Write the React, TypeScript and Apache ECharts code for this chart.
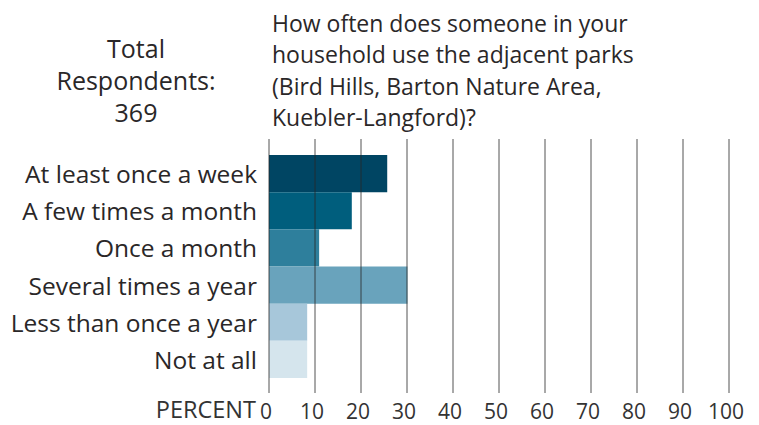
import React, { useEffect, useRef } from "react";
import * as echarts from "echarts";

const categories = [
  "At least once a week",
  "A few times a month",
  "Once a month",
  "Several times a year",
  "Less than once a year",
  "Not at all",
];
const values = [25.7, 18.0, 10.9, 30.1, 8.3, 8.3];
const barColors = ["#004563", "#005E7D", "#2E7F9C", "#69A3BC", "#A7C7DA", "#D5E5ED"];
const titleLines = [
  "How often does someone in your",
  "household use the adjacent parks",
  "(Bird Hills, Barton Nature Area,",
  "Kuebler-Langford)?",
];
const totalLines = ["Total", "Respondents:", "369"];
const axisName = "PERCENT";

const FONT = "'Open Sans', 'Noto Sans', sans-serif";
const TXT = "#2a2728";

export default function App() {
  const ref = useRef<HTMLDivElement>(null);
  useEffect(() => {
    if (!ref.current) return;
    const chart = echarts.init(ref.current, null, { renderer: "svg" });
    chart.setOption({
      animation: false,
      backgroundColor: "#ffffff",
      textStyle: { fontFamily: FONT },
      grid: [
        { left: 269, width: 460, top: 155, height: 223, containLabel: false },
        { left: 269, width: 460, top: 139, height: 254, containLabel: false },
      ],
      xAxis: [
        {
          gridIndex: 0,
          type: "value",
          min: 0,
          max: 100,
          interval: 10,
          show: false,
          splitLine: { show: false },
        },
        {
          gridIndex: 1,
          type: "value",
          min: 0,
          max: 100,
          interval: 10,
          z: 5,
          axisLine: { show: false },
          axisTick: { show: false },
          splitLine: { show: true, lineStyle: { color: "rgba(40,40,40,0.5)", width: 1.6 } },
          axisLabel: {
            show: true,
            margin: 7,
            fontSize: 21,
            color: "#333",
            fontFamily: FONT,
            padding: [0, 6, 0, 0],
          },
        },
      ],
      yAxis: [
        {
          gridIndex: 0,
          type: "category",
          data: categories,
          inverse: true,
          axisLine: { show: false },
          axisTick: { show: false },
          splitLine: { show: false },
          axisLabel: { fontSize: 24.5, color: TXT, margin: 12, fontFamily: FONT },
        },
        {
          gridIndex: 1,
          type: "category",
          data: [""],
          show: false,
        },
      ],
      series: [
        {
          type: "bar",
          xAxisIndex: 0,
          yAxisIndex: 0,
          barCategoryGap: "0%",
          z: 2,
          data: values.map((v, i) => ({ value: v, itemStyle: { color: barColors[i] } })),
        },
      ],
      graphic: [
        {
          type: "text",
          left: 272,
          top: 7,
          style: {
            text: titleLines.join("\n"),
            font: `23px ${FONT}`,
            lineHeight: 31.5,
            fill: TXT,
          },
        },
        {
          type: "text",
          x: 136,
          y: 32,
          style: {
            text: totalLines.join("\n"),
            font: `25px ${FONT}`,
            lineHeight: 32,
            fill: TXT,
            align: "center",
          },
        },
        {
          type: "text",
          x: 256,
          y: 409,
          style: {
            text: axisName,
            font: `23.5px ${FONT}`,
            lineHeight: 24,
            fill: "#333",
            align: "right",
            verticalAlign: "middle",
          },
        },
      ],
    });
    return () => chart.dispose();
  }, []);
  return (
    <div
      ref={ref}
      style={{ position: "fixed", left: 0, top: 0, width: 759, height: 425 }}
    />
  );
}
